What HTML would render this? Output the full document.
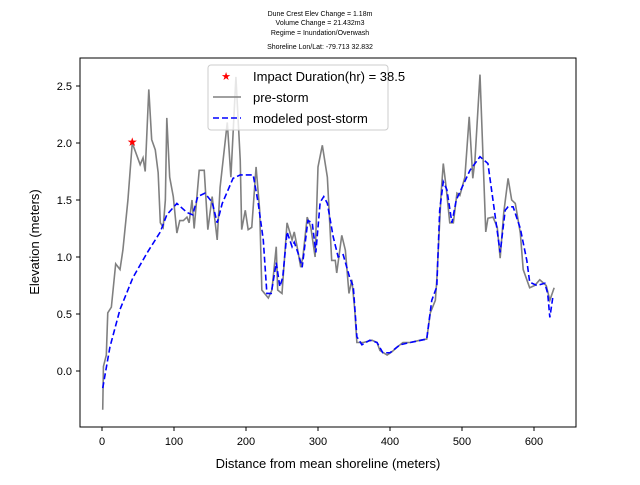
<!DOCTYPE html>
<html><head><meta charset="utf-8"><style>
body{margin:0;background:#fff}
svg{font-family:"Liberation Sans","DejaVu Sans",sans-serif}
</style></head><body>
<svg id="chart" width="640" height="480" xmlns="http://www.w3.org/2000/svg">
<g font-size="7" text-anchor="middle" fill="#000">
<text x="320" y="16">Dune Crest Elev Change = 1.18m</text>
<text x="320" y="25">Volume Change = 21.432m3</text>
<text x="320" y="35">Regime = Inundation/Overwash</text>
<text x="320" y="49">Shoreline Lon/Lat: -79.713 32.832</text>
</g>
<rect x="80" y="58" width="496" height="369" fill="none" stroke="#000" stroke-width="1"/>
<g id="xt"></g>
<g id="yt"></g>
<text x="328" y="468" font-size="13" text-anchor="middle">Distance from mean shoreline (meters)</text>
<text transform="translate(39,242) rotate(-90)" font-size="13" text-anchor="middle">Elevation (meters)</text>
<polyline id="pre" fill="none" stroke="#808080" stroke-width="1.6"/>
<polyline id="post" fill="none" stroke="#0000ff" stroke-width="1.6" stroke-dasharray="6,3"/>
<text id="star" font-size="12" fill="red" text-anchor="middle">★</text>
<g>
<rect x="208" y="65" width="180" height="65" rx="3" fill="#fff" fill-opacity="0.8" stroke="#ccc"/>
<text x="226" y="80" font-size="11" fill="red" text-anchor="middle">★</text>
<text x="253" y="81" font-size="13">Impact Duration(hr) = 38.5</text>
<line x1="213" y1="97" x2="241" y2="97" stroke="#808080" stroke-width="1.6"/>
<text x="253" y="102" font-size="13">pre-storm</text>
<line x1="213" y1="118" x2="241" y2="118" stroke="#0000ff" stroke-width="1.6" stroke-dasharray="6,3"/>
<text x="253" y="123" font-size="13">modeled post-storm</text>
</g>
</svg>
<script>
const preX=[1,2,6,8,13,19,25,29,36,42,49,53,57,60,65,69,74,78,81,85,88,90,94,99,104,108,113,118,121,125,128,135,142,147,153,160,164,174,179,186,192,194,199,203,208,214,219,222,231,236,242,244,250,257,264,267,271,276,279,285,290,296,300,306,313,319,324,326,333,338,343,347,351,354,363,375,382,386,396,403,410,418,428,442,451,456,463,465,471,474,478,483,488,493,497,504,510,515,518,525,529,533,536,543,549,553,558,564,569,574,581,585,594,601,608,617,622,628];
const preY=[-0.34,0.04,0.14,0.51,0.56,0.94,0.89,1.06,1.50,2.00,1.88,1.81,1.87,1.75,2.47,2.03,1.94,1.74,1.30,1.26,1.50,2.22,1.70,1.53,1.21,1.32,1.32,1.35,1.30,1.50,1.25,1.76,1.76,1.24,1.53,1.15,1.61,2.18,1.70,2.58,1.85,1.24,1.41,1.24,1.26,1.79,1.41,0.71,0.64,0.71,1.09,0.71,0.68,1.30,1.15,1.22,1.09,0.91,1.00,1.35,1.26,1.00,1.79,1.98,1.70,0.97,0.97,0.86,1.19,1.06,0.68,0.80,0.54,0.25,0.25,0.27,0.25,0.18,0.14,0.17,0.21,0.25,0.25,0.27,0.28,0.51,0.62,0.80,1.56,1.82,1.61,1.30,1.30,1.56,1.54,1.70,2.23,1.69,1.85,2.60,1.91,1.22,1.34,1.35,1.26,0.99,1.39,1.69,1.50,1.47,1.21,0.89,0.73,0.75,0.80,0.75,0.62,0.73];
const postX=[1,11,25,43,63,81,90,104,118,126,133,143,153,160,167,182,192,210,217,224,229,235,242,247,251,257,264,267,272,278,286,292,297,303,308,313,321,328,335,344,349,354,361,372,382,390,400,414,428,451,458,465,469,474,479,486,492,500,511,525,536,543,553,560,564,571,581,590,594,604,615,619,622,626];
const postY=[-0.15,0.21,0.54,0.82,1.04,1.22,1.37,1.47,1.39,1.37,1.53,1.56,1.48,1.30,1.47,1.69,1.72,1.72,1.47,1.15,0.68,0.68,0.95,0.74,0.82,1.22,1.09,1.13,1.04,0.91,1.32,1.30,1.04,1.48,1.53,1.47,1.18,1.00,1.02,0.82,0.74,0.30,0.23,0.27,0.25,0.16,0.16,0.23,0.25,0.28,0.62,0.74,1.41,1.66,1.59,1.30,1.50,1.61,1.76,1.88,1.82,1.50,1.04,1.41,1.44,1.44,1.25,0.97,0.78,0.75,0.77,0.68,0.47,0.64];
const starX=[42], starY=[2.01];
const xTicks=[0,100,200,300,400,500,600];
const yTicks=[0.0,0.5,1.0,1.5,2.0,2.5];
const sx=v=>102+v*0.72, sy=v=>371-v*114;
const NS='http://www.w3.org/2000/svg';
document.getElementById('pre').setAttribute('points',preX.map((x,i)=>sx(x)+','+sy(preY[i])).join(' '));
document.getElementById('post').setAttribute('points',postX.map((x,i)=>sx(x)+','+sy(postY[i])).join(' '));
const st=document.getElementById('star');st.setAttribute('x',sx(starX[0]));st.setAttribute('y',sy(starY[0])+4);
const xt=document.getElementById('xt');
xTicks.forEach(t=>{const l=document.createElementNS(NS,'line');


l.setAttribute('x1',sx(t));l.setAttribute('x2',sx(t));l.setAttribute('y1',427);l.setAttribute('y2',431);l.setAttribute('stroke','#000');xt.appendChild(l);
const s=document.createElementNS(NS,'text');


s.setAttribute('x',sx(t));s.setAttribute('y',445);s.setAttribute('font-size','11');s.setAttribute('text-anchor','middle');s.textContent=t;xt.appendChild(s);});
const yt=document.getElementById('yt');
yTicks.forEach(t=>{const l=document.createElementNS(NS,'line');


l.setAttribute('x1',76);l.setAttribute('x2',80);l.setAttribute('y1',sy(t));l.setAttribute('y2',sy(t));l.setAttribute('stroke','#000');yt.appendChild(l);
const s=document.createElementNS(NS,'text');


s.setAttribute('x',72);s.setAttribute('y',sy(t)+4);s.setAttribute('font-size','11');s.setAttribute('text-anchor','end');s.textContent=t.toFixed(1);yt.appendChild(s);});
</script>
</body></html>
